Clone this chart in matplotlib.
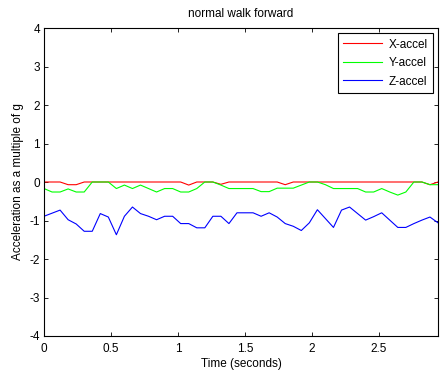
import numpy as np
import matplotlib
matplotlib.use("Agg")
import matplotlib.pyplot as plt

plt.rcParams['font.family'] = ['Liberation Sans', 'DejaVu Sans']

dt = 0.06
x_accel = [0, 0, 0, -0.07, -0.07, 0, 0, 0, 0, 0,
           0, 0, 0, 0, 0, 0, 0, 0, -0.08, 0,
           0, 0, -0.06, 0, 0, 0, 0, 0, 0, 0,
           -0.07, 0, 0, 0, 0, 0, 0, 0, 0, 0,
           0, 0, 0, 0, 0, 0, 0, 0, -0.07, 0]
y_accel = [-0.17, -0.26, -0.26, -0.18, -0.26, -0.26, 0.0, 0.0, 0.0, -0.17,
           -0.08, -0.17, -0.08, -0.17, -0.26, -0.17, -0.17, -0.26, -0.26, -0.17,
           0.0, 0.0, -0.08, -0.17, -0.17, -0.17, -0.17, -0.25, -0.25, -0.16,
           -0.16, -0.16, -0.08, 0.0, 0.0, -0.07, -0.17, -0.17, -0.17, -0.17,
           -0.26, -0.26, -0.17, -0.26, -0.34, -0.26, 0.0, 0.0, -0.07, -0.07]
z_accel = [-0.89, -0.81, -0.73, -0.98, -1.09, -1.28, -1.28, -0.82, -0.91, -1.37,
           -0.89, -0.65, -0.82, -0.89, -0.98, -0.89, -0.89, -1.08, -1.08, -1.19,
           -1.19, -0.89, -0.89, -1.08, -0.80, -0.80, -0.80, -0.89, -0.80, -0.91,
           -1.08, -1.15, -1.26, -1.06, -0.72, -0.95, -1.18, -0.73, -0.65, -0.82,
           -0.99, -0.90, -0.80, -0.99, -1.18, -1.18, -1.08, -0.99, -0.91, -1.06]
t = np.arange(len(z_accel)) * dt

labels = ['X-accel', 'Y-accel', 'Z-accel']
colors = ['#ff0000', '#00ff00', '#0000ff']
xticks = [0, 0.5, 1, 1.5, 2, 2.5]
yticks = [-4, -3, -2, -1, 0, 1, 2, 3, 4]

fig = plt.figure(figsize=(4.42, 3.74), dpi=100)
ax = fig.add_axes([44/442, 1 - 336/374, (438-44)/442, (336-28)/374])
for d, lab, c in zip([x_accel, y_accel, z_accel], labels, colors):
    ax.plot(t, d, color=c, lw=0.8, label=lab)

ax.set_xlim(0, t[-1])
ax.set_ylim(-4, 4)
ax.set_xticks(xticks)
ax.set_xticklabels([f'{v:g}' for v in xticks])
ax.set_yticks(yticks)
ax.set_yticklabels([f'{v:g}' for v in yticks])
ax.tick_params(direction='in', top=True, right=True, length=3, width=0.6,
               labelsize=8.5, pad=3)
ax.tick_params(axis='x', pad=5)
for s in ax.spines.values():
    s.set_linewidth(0.8)
ax.set_title('normal walk forward', fontsize=8.5, pad=8)
ax.set_xlabel('Time (seconds)', fontsize=8.5, labelpad=2)
ax.set_ylabel('Acceleration as a multiple of g', fontsize=8.5, labelpad=4)
leg = ax.legend(loc='upper right', fontsize=8.5, fancybox=False, framealpha=1,
                edgecolor='black', borderaxespad=0.45, handlelength=3.3,
                labelspacing=0.55, borderpad=0.45, handletextpad=0.5)
leg.get_frame().set_linewidth(0.8)

fig.savefig('out.png', dpi=100)
